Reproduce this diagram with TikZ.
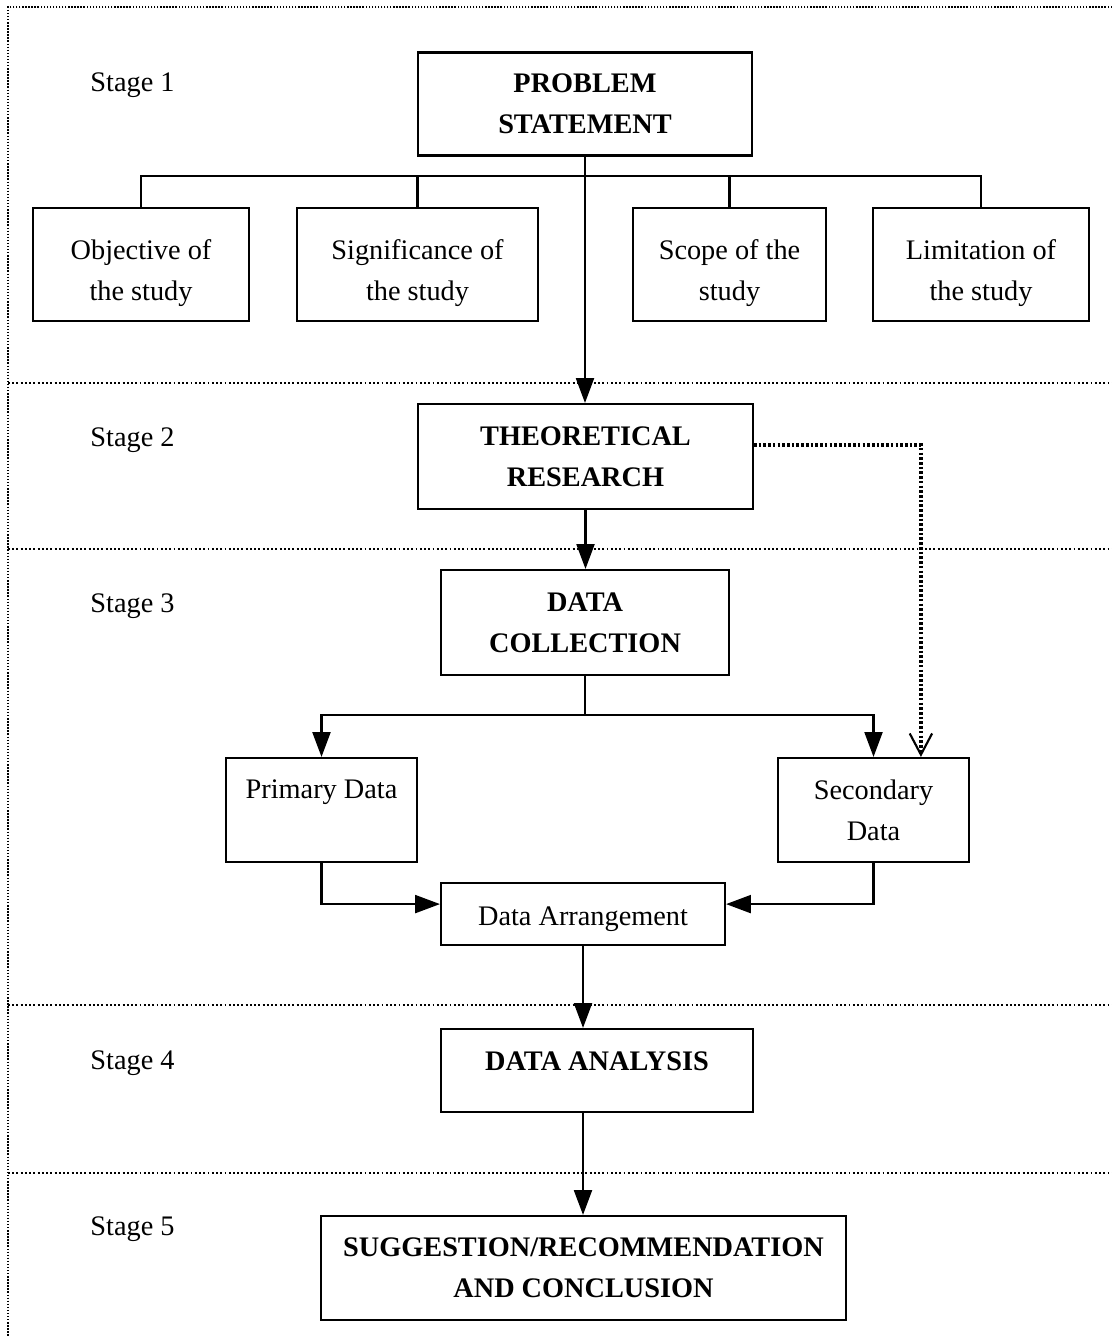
\documentclass[tikz,border=0pt]{standalone}
\usepackage{fontspec}
\setmainfont{Liberation Serif}
\usetikzlibrary{arrows.meta}

\newcommand{\topgap}{\rule{0pt}{16pt}}

\tikzset{
  txt/.style={font=\fontsize{12}{17.4}\selectfont},
  head/.style={font=\fontsize{12}{17.4}\selectfont\bfseries},
  box/.style={draw, line width=0.9pt, align=center, inner sep=0pt},
  subbox/.style={box, txt, minimum width=#1, minimum height=47.9pt},
  link/.style={line width=0.9pt},
  arrow/.style={link, -{Triangle[width=7.6pt,length=10.5pt]}},
  dotarrow/.style={line width=1.4pt, dash pattern=on 1.1pt off 0.9pt,
    -{Straight Barb[width=9.5pt,length=9pt,line width=0.9pt]}},
  stageline/.style={line width=0.8pt, dash pattern=on 0.8pt off 1.0pt},
  framedot/.style={line width=0.6pt, dash pattern=on 0.6pt off 0.7pt}
}

\begin{document}
\begin{tikzpicture}[x=0.424pt,y=0.424pt,yscale=-1,xscale=1]
\useasboundingbox (0,0) rectangle (1112,1336);

% frame and stage separators
\draw[framedot] (1112,7) -- (8,7) -- (8,1336);
\foreach \y in {383,549,1005,1173}
  \draw[stageline] (8,\y) -- (1112,\y);

% stage labels
\foreach \s/\y in {1/85,2/440,3/606,4/1063,5/1229}
  \node[txt, anchor=west, inner sep=0pt] (stage\s) at (90,\y) {Stage \s};

% Stage 1
\node[box, head, minimum width=141.6pt, minimum height=43.7pt] (problem) at (585,104) {PROBLEM\\STATEMENT};
\node[subbox=91.6pt] (objective) at (141,264.5) {\topgap Objective of\\the study};
\node[subbox=102.2pt] (significance) at (417.5,264.5) {\topgap Significance of\\the study};
\node[subbox=81.8pt] (scope) at (729.5,264.5) {\topgap Scope of the\\study};
\node[subbox=91.6pt] (limitation) at (981,264.5) {\topgap Limitation of\\the study};

% Stage 2
\node[box, head, minimum width=142pt, minimum height=44.5pt] (theory) at (585.5,456.5) {THEORETICAL\\RESEARCH};

% Stage 3
\node[box, head, minimum width=122.1pt, minimum height=44.5pt] (collection) at (585,622.5) {DATA\\COLLECTION};
\node[box, txt, minimum width=81pt, minimum height=44.1pt, text depth=17.8pt] (primary) at (321.5,810) {Primary Data};
\node[box, txt, minimum width=81pt, minimum height=44.1pt] (secondary) at (873.5,810) {Secondary\\Data};
\node[box, txt, minimum width=120.4pt, minimum height=26.3pt, text height=12.2pt] (arrange) at (583,914) {Data Arrangement};

% Stage 4
\node[box, head, minimum width=132.3pt, minimum height=35.2pt, text depth=8pt] (analysis) at (597,1070.5) {DATA ANALYSIS};

% Stage 5
\node[box, head, minimum width=222.6pt, minimum height=44.1pt] (suggestion) at (583.5,1268) {SUGGESTION/RECOMMENDATION\\AND CONCLUSION};

% connectors
\coordinate (branch) at (585,176);
\draw[link] (objective.north) |- (branch) -| (limitation.north);
\draw[link] (significance.north) -- (significance.north |- branch);
\draw[link] (scope.north) -- (scope.north |- branch);
\draw[arrow] (problem.south) -- (problem.south |- theory.north);
\draw[arrow] (theory.south) -- (theory.south |- collection.north);

\coordinate (split) at (585,715);
\draw[link] (collection.south) -- (split);
\draw[arrow] (split) -| (primary.north);
\draw[arrow] (split) -| (secondary.north);
\draw[dotarrow] ([yshift=-4.9pt]theory.east) -| ([xshift=20.1pt]secondary.north);

\draw[arrow] (primary.south) |- ([yshift=-4.2pt]arrange.west);
\draw[arrow] (secondary.south) |- ([yshift=-4.2pt]arrange.east);
\draw[arrow] (arrange.south) -- (arrange.south |- analysis.north);
\draw[arrow] (analysis.south -| arrange.south) -- (arrange.south |- suggestion.north);

\end{tikzpicture}
\end{document}
